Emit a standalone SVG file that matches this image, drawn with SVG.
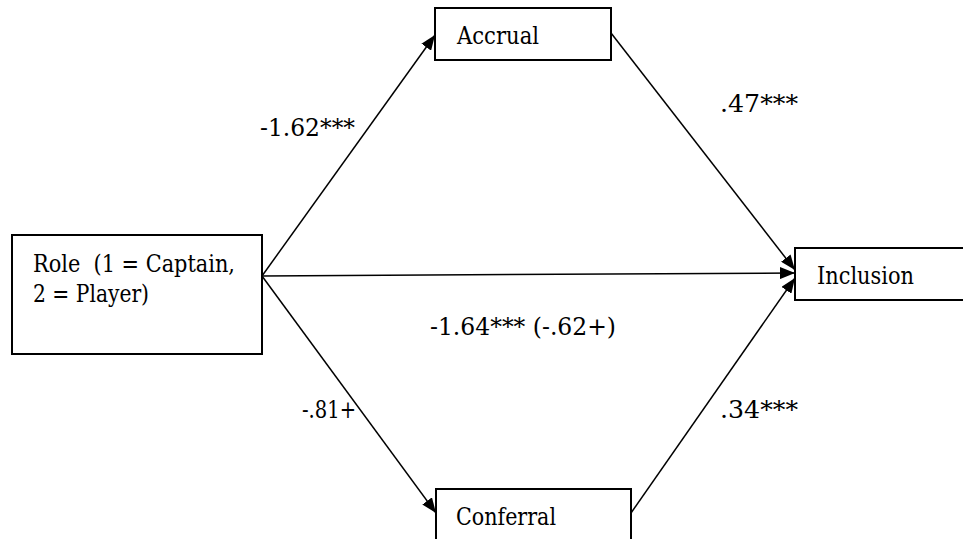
<svg xmlns="http://www.w3.org/2000/svg" width="963" height="539" viewBox="0 0 963 539">
<style>
.box{fill:#fff;stroke:#000;stroke-width:2}
text{font-family:'DejaVu Serif',serif;font-size:24px;fill:#000}
.c{stroke:#000;stroke-width:1.5;fill:none}
</style>
<defs>
<marker id="ah" viewBox="0 0 15 12" refX="15" refY="6" markerWidth="15" markerHeight="12" markerUnits="userSpaceOnUse" orient="auto">
<path d="M0,0 L15,6 L0,12 z" fill="#000"/>
</marker>
</defs>
<rect width="963" height="539" fill="#fff"/>
<g id="connectors">
<line class="c" x1="262" y1="276" x2="435" y2="35" marker-end="url(#ah)"/>
<line class="c" x1="262" y1="276" x2="436" y2="513" marker-end="url(#ah)"/>
<line class="c" x1="262" y1="276" x2="795" y2="273" marker-end="url(#ah)"/>
<line class="c" x1="611" y1="33" x2="795" y2="270" marker-end="url(#ah)"/>
<line class="c" x1="631" y1="513" x2="795" y2="278" marker-end="url(#ah)"/>
</g>
<g id="role">
<rect class="box" x="12" y="235" width="250" height="119"/>
<text x="33" y="272" xml:space="preserve" textLength="202" lengthAdjust="spacingAndGlyphs">Role  (1 = Captain,</text>
<text x="33" y="302" textLength="116" lengthAdjust="spacingAndGlyphs">2 = Player)</text>
</g>
<g id="accrual">
<rect class="box" x="435" y="8" width="176" height="52"/>
<text x="457" y="44" textLength="82" lengthAdjust="spacingAndGlyphs">Accrual</text>
</g>
<g id="conferral">
<rect class="box" x="436" y="489" width="195" height="60"/>
<text x="456" y="525" textLength="100" lengthAdjust="spacingAndGlyphs">Conferral</text>
</g>
<g id="inclusion">
<rect class="box" x="795" y="248" width="180" height="52"/>
<text x="817" y="284" textLength="97" lengthAdjust="spacingAndGlyphs">Inclusion</text>
</g>
<g id="labels">
<text x="260" y="136" textLength="95" lengthAdjust="spacingAndGlyphs">-1.62***</text>
<text x="720" y="112" textLength="78" lengthAdjust="spacingAndGlyphs">.47***</text>
<text x="430" y="335" textLength="186" lengthAdjust="spacingAndGlyphs">-1.64*** (-.62+)</text>
<text x="302" y="418" textLength="54" lengthAdjust="spacingAndGlyphs">-.81+</text>
<text x="720" y="418" textLength="78" lengthAdjust="spacingAndGlyphs">.34***</text>
</g>
</svg>
